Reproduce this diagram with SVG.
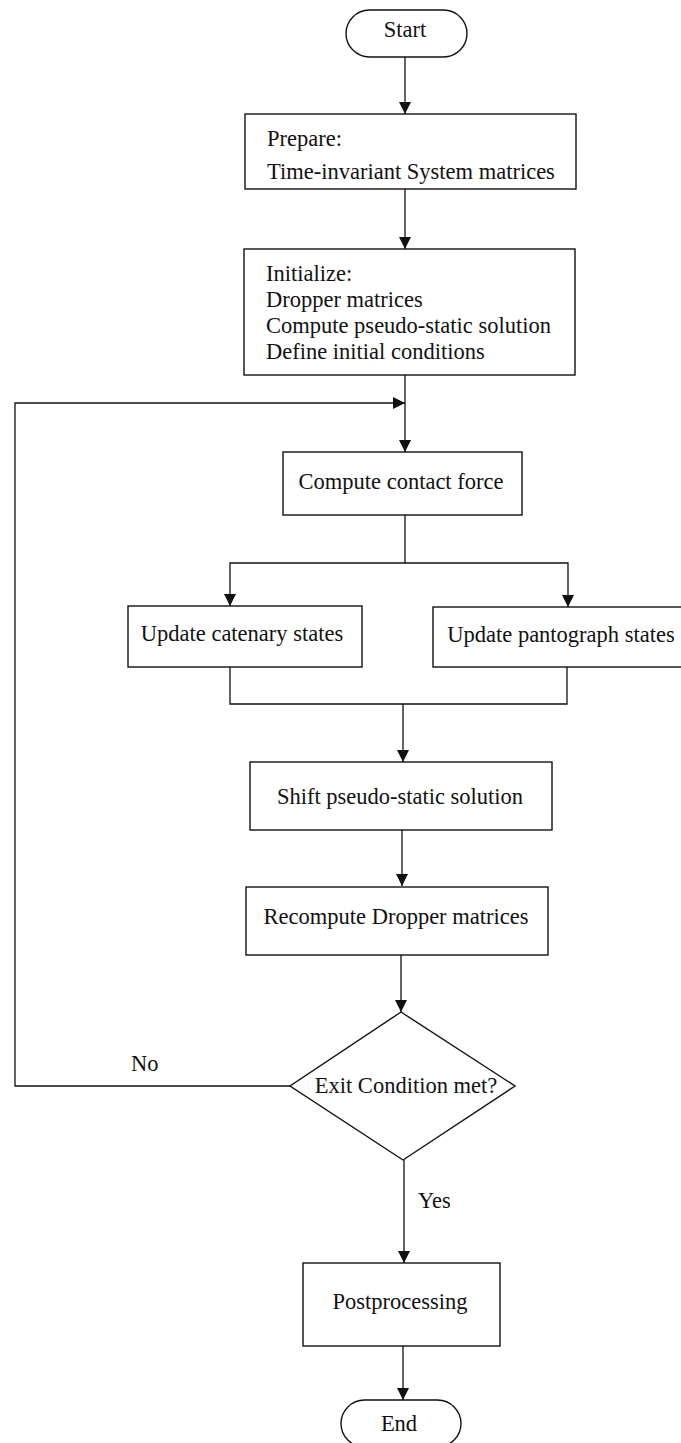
<svg xmlns="http://www.w3.org/2000/svg" width="681" height="1443" viewBox="0 0 681 1443">
<style>
.shape{fill:#fff;stroke:#111;stroke-width:1.4}
.t{font-family:"Liberation Serif","Times New Roman",serif;font-size:22.5px;fill:#111}
.c{text-anchor:middle}
.conn path{fill:none;stroke:#111;stroke-width:1.3}
</style>
<defs>
<marker id="ah" markerUnits="userSpaceOnUse" markerWidth="12" markerHeight="12" refX="12" refY="6" orient="auto">
<path d="M0,0 L12,6 L0,12 z" fill="#111"/>
</marker>
</defs>
<rect width="681" height="1443" fill="#fff"/>
<g id="connectors" class="conn">
<path d="M405,57 V114" marker-end="url(#ah)"/>
<path d="M405,189 V249" marker-end="url(#ah)"/>
<path d="M405,375 V452" marker-end="url(#ah)"/>
<path d="M405,515 V563"/>
<path d="M405,563 H230 V606" marker-end="url(#ah)"/>
<path d="M405,563 H568 V607" marker-end="url(#ah)"/>
<path d="M230,667 V704 H567 V667"/>
<path d="M403,704 V762" marker-end="url(#ah)"/>
<path d="M402,830 V886" marker-end="url(#ah)"/>
<path d="M401,955 V1012" marker-end="url(#ah)"/>
<path d="M290,1086 H15 V403 H405" marker-end="url(#ah)"/>
<path d="M404,1160 V1263" marker-end="url(#ah)"/>
<path d="M403,1346 V1400" marker-end="url(#ah)"/>
<text class="t" x="131" y="1071">No</text>
<text class="t" x="418" y="1208">Yes</text>
</g>
<g id="start">
<rect class="shape" x="346" y="10" width="121" height="47" rx="23.5"/>
<text class="t c" x="405" y="37">Start</text>
</g>
<g id="prepare">
<rect class="shape" x="245" y="114" width="331" height="75"/>
<text class="t" x="267" y="146">Prepare:</text>
<text class="t" x="267" y="179">Time-invariant System matrices</text>
</g>
<g id="initialize">
<rect class="shape" x="244" y="249" width="331" height="126"/>
<text class="t" x="266" y="281">Initialize:</text>
<text class="t" x="266" y="307">Dropper matrices</text>
<text class="t" x="266" y="333">Compute pseudo-static solution</text>
<text class="t" x="266" y="359">Define initial conditions</text>
</g>
<g id="compute-contact-force">
<rect class="shape" x="283" y="452" width="239" height="63"/>
<text class="t c" x="401" y="489">Compute contact force</text>
</g>
<g id="update-catenary">
<rect class="shape" x="128" y="606" width="234" height="61"/>
<text class="t c" x="242" y="641">Update catenary states</text>
</g>
<g id="update-pantograph">
<rect class="shape" x="433" y="607" width="250" height="60"/>
<text class="t c" x="561" y="642">Update pantograph states</text>
</g>
<g id="shift">
<rect class="shape" x="250" y="762" width="302" height="68"/>
<text class="t c" x="400" y="804">Shift pseudo-static solution</text>
</g>
<g id="recompute">
<rect class="shape" x="246" y="887" width="302" height="68"/>
<text class="t c" x="396" y="924">Recompute Dropper matrices</text>
</g>
<g id="exit-condition">
<polygon class="shape" points="401,1012 515,1086 403,1160 290,1086"/>
<text class="t c" x="406" y="1093">Exit Condition met?</text>
</g>
<g id="postprocessing">
<rect class="shape" x="303" y="1263" width="197" height="83"/>
<text class="t c" x="400" y="1309">Postprocessing</text>
</g>
<g id="end">
<rect class="shape" x="341" y="1400" width="120" height="47" rx="23.5"/>
<text class="t c" x="399" y="1431">End</text>
</g>
</svg>
